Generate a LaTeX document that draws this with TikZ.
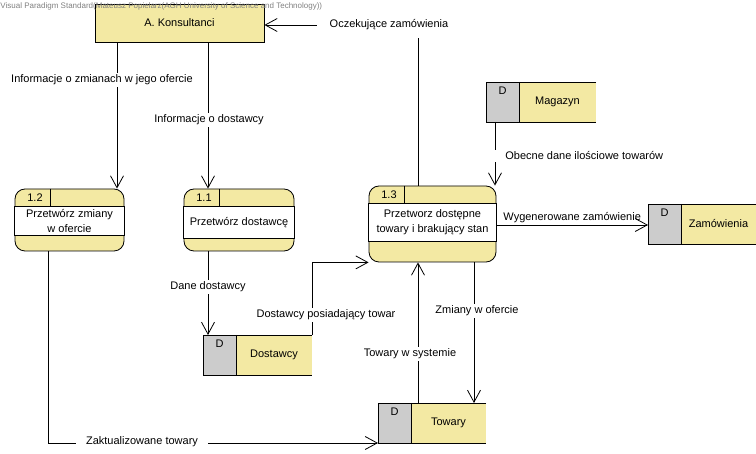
\documentclass[tikz,border=0pt]{standalone}
\usepackage{fontspec}
\setmainfont{Liberation Sans}
\usepackage{tikz}
\usetikzlibrary{arrows.meta,positioning,calc}
\definecolor{dfdyellow}{RGB}{243,233,163}
\definecolor{dfdgray}{RGB}{204,204,204}

% process: name, x, y, width, height, band bottom, number, text
\newcommand{\dfdproc}[8]{%
    \node[procbox, minimum width=#4pt, minimum height=#5pt] (#1) at (#2,#3) {};
    \draw[fill=white] ($(#1.north west)+(0,18)$) rectangle ($(#1.north east)+(0,#6)$);
    \draw ($(#1.north west)+(36,0)$) -- ($(#1.north west)+(36,18)$);
    \node[anchor=west] (#1-num) at ($(#1.north west)+(9,9)$) {#7};
    \node[align=center] (#1-txt) at ($(#1.north)+(0,{(18+#6)/2})$) {#8};
}
% data store: name, x, y, width, label
\newcommand{\dfdstore}[5]{%
    \node[storebox, minimum width=#4pt, anchor=north west] (#1) at (#2,#3) {};
    \fill[dfdgray] (#1.north west) rectangle ($(#1.south west)+(33,0)$);
    \draw (#1.north east) -- (#1.north west) -- (#1.south west) -- (#1.south east);
    \draw ($(#1.north west)+(33,0)$) -- ($(#1.south west)+(33,0)$);
    \node (#1-d) at ($(#1.north west)+(16.5,9)$) {D};
    \node (#1-txt) at ($(#1.center)+(16.5,0)$) {#5};
}

\begin{document}
\begin{tikzpicture}[x=1pt, y=-1pt, line width=0.8pt,
    font=\fontsize{11}{15}\selectfont,
    extbox/.style={draw, fill=dfdyellow, inner sep=0pt},
    procbox/.style={draw, fill=dfdyellow, rounded corners=10pt, inner sep=0pt},
    storebox/.style={fill=dfdyellow, minimum height=40pt, inner sep=0pt, outer sep=0pt},
    flow/.style={-{Straight Barb[length=12pt, width=13pt]}},
    lbl/.style={fill=white, inner xsep=10pt, inner ysep=1.5pt}]
    \useasboundingbox (0,0) rectangle (756,454);

    % external entity
    \node[extbox, minimum width=169pt, minimum height=38pt] (kons) at (179.5,23) {A. Konsultanci};

    % processes
    \dfdproc{p12}{69.5}{220}{109}{62}{47}{1.2}{Przetwórz zmiany\\w ofercie}
    \dfdproc{p11}{239}{220}{110}{62}{50}{1.1}{Przetwórz dostawcę}
    \dfdproc{p13}{432.5}{224}{127}{76}{56}{1.3}{Przetworz dostępne\\towary i brakujący stan}

    % data stores
    \dfdstore{magazyn}{486}{82}{110}{Magazyn}
    \dfdstore{zamowienia}{648}{204}{108}{Zamówienia}
    \dfdstore{dostawcy}{203}{335}{109}{Dostawcy}
    \dfdstore{towary}{378}{403}{108}{Towary}

    % flows
    \draw[flow] (p13.north -| 418,0) |- (kons.east |- 0,25);
    \draw[flow] (kons.south -| 117,0) -- (p12.north -| 117,0);
    \draw[flow] (kons.south -| 208,0) -- (p11.north -| 208,0);
    \draw[flow] (magazyn.south -| 495,0) -- (p13.north -| 495,0);
    \draw[flow] (p13.east |- 0,225) -- node[above, inner sep=2pt] (lwyg) {Wygenerowane zamówienie} (zamowienia.west |- 0,225);
    \draw[flow] (p11.south -| 208,0) -- (dostawcy.north -| 208,0);
    \draw[flow] (dostawcy.north east) |- (p13.south west);
    \draw[flow] (towary.north -| 418,0) -- (p13.south -| 418,0);
    \draw[flow] (p13.south -| 474,0) -- (towary.north -| 474,0);
    \draw[flow] (p12.south -| 48,0) |- (towary.south west);

    % Labels
    \node[lbl, inner xsep=13pt, inner ysep=8pt] (locz) at (389,25) {Oczekujące zamówienia};
    \node[lbl] (lzmiany) at (102,80) {Informacje o zmianach w jego ofercie};
    \node[lbl] (linfo) at (209,120) {Informacje o dostawcy};
    \node[lbl, anchor=west, inner xsep=12pt] (lobecne) at (493,156) {Obecne dane ilościowe towarów};
    \node[lbl] (ldane) at (208,287) {Dane dostawcy};
    \node[lbl] (lposiad) at (326,315) {Dostawcy posiadający towar};
    \node[lbl] (lsystem) at (410,354) {Towary w systemie};
    \node[lbl] (loferta) at (477,311) {Zmiany w ofercie};
    \node[lbl] (lakt) at (142,442) {Zaktualizowane towary};

    % watermark
    \node[anchor=west, inner sep=0pt, text=black!50, font=\fontsize{8}{9}\selectfont] (wm) at (0,6)
        {Visual Paradigm Standard(Mateusz Popielarz(AGH University of Science and Technology))};
\end{tikzpicture}
\end{document}
